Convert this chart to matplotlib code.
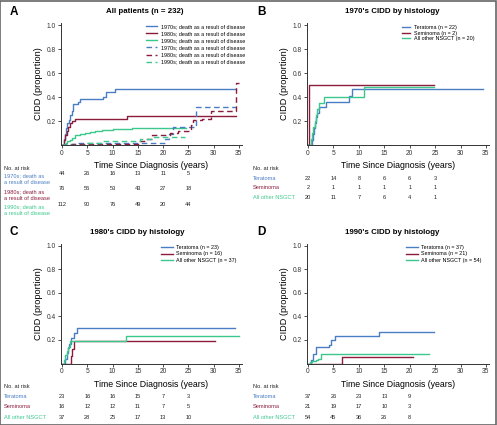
import matplotlib
matplotlib.use('Agg')
import matplotlib.pyplot as plt
from matplotlib.transforms import blended_transform_factory
from matplotlib.patches import Rectangle

plt.rcParams['font.family'] = ['Liberation Sans', 'DejaVu Sans']

BLUE = '#4a7ec4'
RED = '#8c1c3c'
GREEN = '#3cc88c'

# panel A: all patients, cumulative incidence of death from disease (solid) / other (dashed)
a70_t = [0, 0.3, 0.5, 0.8, 1.0, 1.3, 1.6, 1.9, 2.2, 3.1, 3.6, 8.2, 8.7, 10.5, 34.5]
a70_y = [0, 0.05, 0.09, 0.14, 0.18, 0.21, 0.25, 0.28, 0.34, 0.36, 0.38, 0.40, 0.44, 0.47, 0.47]
a80_t = [0, 0.3, 0.6, 0.9, 1.2, 1.5, 2.0, 2.6, 12.8, 34.5]
a80_y = [0, 0.04, 0.08, 0.12, 0.15, 0.18, 0.20, 0.22, 0.24, 0.24]
a90_t = [0, 0.3, 0.7, 1.0, 1.5, 2.0, 2.6, 3.5, 4.5, 5.5, 6.5, 8.0, 10.0, 13.8, 24.5]
a90_y = [0, 0.01, 0.02, 0.03, 0.045, 0.06, 0.08, 0.09, 0.10, 0.11, 0.12, 0.125, 0.13, 0.14, 0.14]
a70d_t = [0, 1.5, 3.0, 20.3, 21.2, 22.0, 26.5, 34.5]
a70d_y = [0, 0.01, 0.02, 0.05, 0.09, 0.15, 0.32, 0.32]
a80d_t = [0, 2.0, 15.2, 16.5, 17.8, 21.3, 23.0, 25.5, 26.0, 27.6, 29.4, 34.5, 35]
a80d_y = [0, 0.01, 0.03, 0.05, 0.08, 0.10, 0.12, 0.17, 0.21, 0.22, 0.28, 0.52, 0.52]
a90d_t = [0, 5.0, 8.0, 15.5, 18.0, 24.3]
a90d_y = [0, 0.02, 0.035, 0.05, 0.065, 0.065]

a_labels = ['1970s; death as a result of disease', '1980s; death as a result of disease',
            '1990s; death as a result of disease']
a_risk_labels = ['1970s; death as\na result of disease', '1980s; death as\na result of disease',
                 '1990s; death as\na result of disease']
a_risk = [[44, 26, 16, 13, 11, 5], [76, 56, 53, 43, 27, 18], [112, 90, 76, 49, 20, 44]]

hist_names = ['Teratoma', 'Seminoma', 'All other NSGCT']

# panel B: 1970s by histology
b_n = [22, 2, 20]
b_ter_t = [0, 0.8, 1.0, 1.2, 1.3, 1.5, 1.8, 2.2, 3.5, 8.0, 8.6, 34.5]
b_ter_y = [0, 0.045, 0.09, 0.14, 0.18, 0.23, 0.27, 0.32, 0.36, 0.41, 0.47, 0.47]
b_sem_t = [0, 0.25, 24.8]
b_sem_y = [0, 0.50, 0.50]
b_oth_t = [0, 0.5, 0.7, 1.0, 1.3, 1.6, 1.8, 2.1, 3.2, 11.0, 24.8]
b_oth_y = [0, 0.05, 0.10, 0.15, 0.20, 0.25, 0.30, 0.35, 0.40, 0.48, 0.48]
b_risk = [[22, 14, 8, 6, 6, 3], [2, 1, 1, 1, 1, 1], [20, 11, 7, 6, 4, 1]]

# panel C: 1980s by histology
c_n = [23, 16, 37]
c_ter_t = [0, 0.6, 0.9, 1.1, 1.3, 1.7, 2.4, 3.0, 34.2]
c_ter_y = [0, 0.04, 0.09, 0.13, 0.17, 0.22, 0.26, 0.30, 0.30]
c_sem_t = [0, 1.7, 2.0, 2.3, 30.2]
c_sem_y = [0, 0.06, 0.12, 0.19, 0.19]
c_oth_t = [0, 0.3, 0.6, 0.9, 1.2, 1.6, 12.6, 35.0]
c_oth_y = [0, 0.03, 0.07, 0.11, 0.14, 0.19, 0.23, 0.23]
c_risk = [[23, 16, 16, 15, 7, 3], [16, 12, 12, 11, 7, 5], [37, 28, 25, 17, 13, 10]]

# panel D: 1990s by histology
d_n = [37, 21, 54]
d_ter_t = [0, 0.6, 1.0, 1.6, 4.2, 4.5, 5.3, 14.0, 24.8]
d_ter_y = [0, 0.03, 0.08, 0.14, 0.16, 0.20, 0.23, 0.27, 0.27]
d_sem_t = [0, 6.6, 20.6]
d_sem_y = [0, 0.055, 0.055]
d_oth_t = [0, 0.3, 0.8, 1.5, 2.0, 2.6, 23.8]
d_oth_y = [0, 0.01, 0.02, 0.03, 0.04, 0.08, 0.08]
d_risk = [[37, 26, 23, 13, 9], [21, 19, 17, 10, 3], [54, 45, 36, 26, 8]]

risk_x = [0, 5, 10, 15, 20, 25]
colors = [BLUE, RED, GREEN]

W, H = 497, 425
fig = plt.figure(figsize=(W / 100, H / 100), dpi=100)


def px_axes(left, top, width, height):
    return fig.add_axes([left / W, 1 - (top + height) / H, width / W, height / H])


def style(ax):
    ax.set_xlim(-0.2, 35.6)
    ax.set_ylim(0, 1.02)
    ax.set_xticks(range(0, 36, 5))
    ax.set_yticks([0.2, 0.4, 0.6, 0.8, 1.0])
    ax.set_yticklabels(['0.2', '0.4', '0.6', '0.8', '1.0'])
    for s in ['top', 'right']:
        ax.spines[s].set_visible(False)
    for s in ['left', 'bottom']:
        ax.spines[s].set_linewidth(0.7)
        ax.spines[s].set_color('#333333')
    ax.tick_params(direction='out', length=2, width=0.6, labelsize=4.8, pad=1.5,
                   colors='#333333')
    ax.set_xlabel('Time Since Diagnosis (years)', fontsize=6.3, labelpad=3.0)
    ax.set_ylabel('CIDD (proportion)', fontsize=6.6, labelpad=3.0)


def risk_table(ax, top_px, row_px, labels, rows, label_x):
    tr = blended_transform_factory(ax.transData, fig.transFigure)
    fig.text(label_x / W, 1 - top_px / H, 'No. at risk', fontsize=4.1, va='center',
             color='#222222')
    for i, (lab, vals) in enumerate(zip(labels, rows)):
        y = 1 - row_px[i] / H
        fig.text(label_x / W, y, lab, fontsize=4.1, va='top' if '\n' in lab else 'center',
                 color=colors[i], linespacing=1.4)
        for xv, v in zip(risk_x, vals):
            ax.text(xv, y, str(v), transform=tr, fontsize=4.1, ha='center', va='center',
                    color='#222222')


# ---- A ----
axA = px_axes(61, 22.6, 181, 122.4)
axA.step(a70_t, a70_y, where='post', color=BLUE, lw=1.0, label=a_labels[0])
axA.step(a80_t, a80_y, where='post', color=RED, lw=1.0, label=a_labels[1])
axA.step(a90_t, a90_y, where='post', color=GREEN, lw=1.0, label=a_labels[2])
axA.step(a70d_t, a70d_y, where='post', color=BLUE, lw=1.0, ls=(0, (4, 2.5)), label=a_labels[0])
axA.step(a80d_t, a80d_y, where='post', color=RED, lw=1.0, ls=(0, (4, 2.5)), label=a_labels[1])
axA.step(a90d_t, a90d_y, where='post', color=GREEN, lw=1.0, ls=(0, (4, 2.5)), label=a_labels[2])
style(axA)
axA.legend(loc='upper left', bbox_to_anchor=(0.47, 0.99), frameon=False, fontsize=3.9,
           handlelength=2.1, handletextpad=0.6, labelspacing=0.4, borderpad=0,
           borderaxespad=0)
axA.set_title('All patients (n = 232)', fontsize=5.7, fontweight='bold', pad=7, x=0.46)
fig.text(10 / W, 1 - 12 / H, 'A', fontsize=8.5, fontweight='bold', va='center')
risk_table(axA, 168, [173.5, 189, 204.5], a_risk_labels, a_risk, 4)

# ---- B ----
axB = px_axes(307, 22.6, 182, 122.4)
axB.step(b_ter_t, b_ter_y, where='post', color=BLUE, lw=1.0,
         label=f'{hist_names[0]} (n = {b_n[0]})')
axB.step(b_sem_t, b_sem_y, where='post', color=RED, lw=1.0,
         label=f'{hist_names[1]} (n = {b_n[1]})')
axB.step(b_oth_t, b_oth_y, where='post', color=GREEN, lw=1.0,
         label=f'{hist_names[2]} (n = {b_n[2]})')
style(axB)
axB.legend(loc='upper left', bbox_to_anchor=(0.52, 0.98), frameon=False, fontsize=3.9,
           handlelength=1.6, handletextpad=0.6, labelspacing=0.12, borderpad=0,
           borderaxespad=0)
axB.set_title("1970's CIDD by histology", fontsize=5.7, fontweight='bold', pad=7, x=0.47)
fig.text(257 / W, 1 - 12 / H, 'B', fontsize=8.5, fontweight='bold', va='center')
risk_table(axB, 168.3, [178.3, 187.7, 197.7], hist_names, b_risk, 253)

# ---- C ----
axC = px_axes(61, 243.6, 181, 119.9)
axC.step(c_ter_t, c_ter_y, where='post', color=BLUE, lw=1.0,
         label=f'{hist_names[0]} (n = {c_n[0]})')
axC.step(c_sem_t, c_sem_y, where='post', color=RED, lw=1.0,
         label=f'{hist_names[1]} (n = {c_n[1]})')
axC.step(c_oth_t, c_oth_y, where='post', color=GREEN, lw=1.0,
         label=f'{hist_names[2]} (n = {c_n[2]})')
style(axC)
axC.legend(loc='upper left', bbox_to_anchor=(0.555, 0.99), frameon=False, fontsize=3.9,
           handlelength=2.1, handletextpad=0.6, labelspacing=0.3, borderpad=0,
           borderaxespad=0)
axC.set_title("1980's CIDD by histology", fontsize=5.7, fontweight='bold', pad=7, x=0.42)
fig.text(10 / W, 1 - 232 / H, 'C', fontsize=8.5, fontweight='bold', va='center')
risk_table(axC, 386.7, [396.7, 406.7, 417.3], hist_names, c_risk, 4)

# ---- D ----
axD = px_axes(307, 243.6, 182, 119.9)
axD.step(d_ter_t, d_ter_y, where='post', color=BLUE, lw=1.0,
         label=f'{hist_names[0]} (n = {d_n[0]})')
axD.step(d_sem_t, d_sem_y, where='post', color=RED, lw=1.0,
         label=f'{hist_names[1]} (n = {d_n[1]})')
axD.step(d_oth_t, d_oth_y, where='post', color=GREEN, lw=1.0,
         label=f'{hist_names[2]} (n = {d_n[2]})')
style(axD)
axD.legend(loc='upper left', bbox_to_anchor=(0.545, 0.99), frameon=False, fontsize=3.9,
           handlelength=2.1, handletextpad=0.6, labelspacing=0.3, borderpad=0,
           borderaxespad=0)
axD.set_title("1990's CIDD by histology", fontsize=5.7, fontweight='bold', pad=7, x=0.47)
fig.text(257 / W, 1 - 232 / H, 'D', fontsize=8.5, fontweight='bold', va='center')
risk_table(axD, 386.7, [396.7, 406.7, 417.3], hist_names, d_risk, 253)

# outer frame
fig.patches.append(Rectangle((0.001, 0.001), 0.997, 0.997, transform=fig.transFigure,
                             fill=False, edgecolor='#666666', lw=1.2))

fig.savefig('out.png', dpi=100)
